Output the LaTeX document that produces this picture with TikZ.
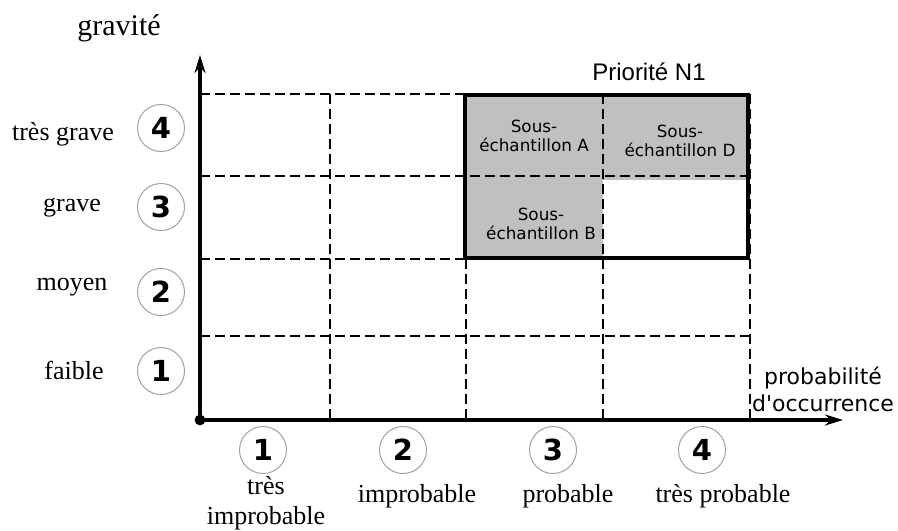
\documentclass[tikz,border=0pt]{standalone}
\usepackage{fontspec}
\setmainfont{Liberation Serif}
\newfontfamily\dejavu{DejaVu Sans}
\newfontfamily\arialf{Liberation Sans}
\usetikzlibrary{arrows.meta}
\definecolor{cellgray}{HTML}{C0C0C0}
\definecolor{ringgray}{HTML}{A0A0A0}
\tikzset{
  gridline/.style={line width=1.1pt, dash pattern=on 5pt off 2.5pt},
  axisline/.style={line width=2pt, -{Stealth[length=9pt,width=5.5pt]}},
  numc/.style={circle, draw=ringgray, line width=0.5pt, minimum size=23.5pt, inner sep=0pt,
    font=\dejavu\bfseries\fontsize{14.5}{16}\selectfont},
  lab/.style={font=\fontsize{13}{15}\selectfont, inner sep=0pt, align=center},
  celltext/.style={font=\dejavu\fontsize{8.4}{9.4}\selectfont, inner sep=0pt, align=center},
  sanslab/.style={font=\dejavu\fontsize{11}{13.5}\selectfont, inner sep=0pt, align=center},
}
\begin{document}
\begin{tikzpicture}[x=0.5pt,y=-0.5pt]
\useasboundingbox (0,0) rectangle (898,530);
% gray cells
\fill[cellgray] (465,95) rectangle (603,258);
\fill[cellgray] (603,95) rectangle (748,180);
% grid
\foreach \y in {94,176,259,336} \draw[gridline] (200,\y) -- (750,\y);
\foreach \x in {330,466,603,750} \draw[gridline] (\x,94) -- (\x,420);
% priority box
\draw[line width=2pt] (465,95) rectangle (748,258);
% axes
\coordinate (O) at (200,420);
\coordinate (ytip) at (200,55);
\coordinate (xtip) at (843,420);
\draw[axisline] (O) -- (ytip);
\draw[axisline] (O) -- (xtip);
\fill (O) circle (2.7pt);
% axis titles
\node[lab, font=\fontsize{15}{17}\selectfont] (gtitle) at (119,28) {gravité};
\node[sanslab] (ptitle) at (823,389) {probabilité\\d'occurrence};
\node[font=\arialf\fontsize{12}{14}\selectfont, inner sep=0pt] (prio) at (649,72) {Priorité N1};
% severity circles
\node[numc] (g4) at (161,128) {4};
\node[numc] (g3) at (161,207) {3};
\node[numc] (g2) at (161,292) {2};
\node[numc] (g1) at (161,371) {1};
\node[lab] (lg4) at (63,134) {très grave};
\node[lab] (lg3) at (72,208) {grave};
\node[lab] (lg2) at (72,287) {moyen};
\node[lab] (lg1) at (74,370) {faible};
% probability circles
\node[numc] (p1) at (263,450) {1};
\node[numc] (p2) at (403,450) {2};
\node[numc] (p3) at (553,450) {3};
\node[numc] (p4) at (702,450) {4};
\node[lab] (lp1) at (266,503) {très\\improbable};
\node[lab] (lp2) at (417,496) {improbable};
\node[lab] (lp3) at (568,496) {probable};
\node[lab] (lp4) at (723,496) {très probable};
% cell texts
\node[celltext] (sA) at (534,136) {Sous-\\échantillon A};
\node[celltext] (sD) at (680,141) {Sous-\\échantillon D};
\node[celltext] (sB) at (541,224) {Sous-\\échantillon B};
\end{tikzpicture}
\end{document}
